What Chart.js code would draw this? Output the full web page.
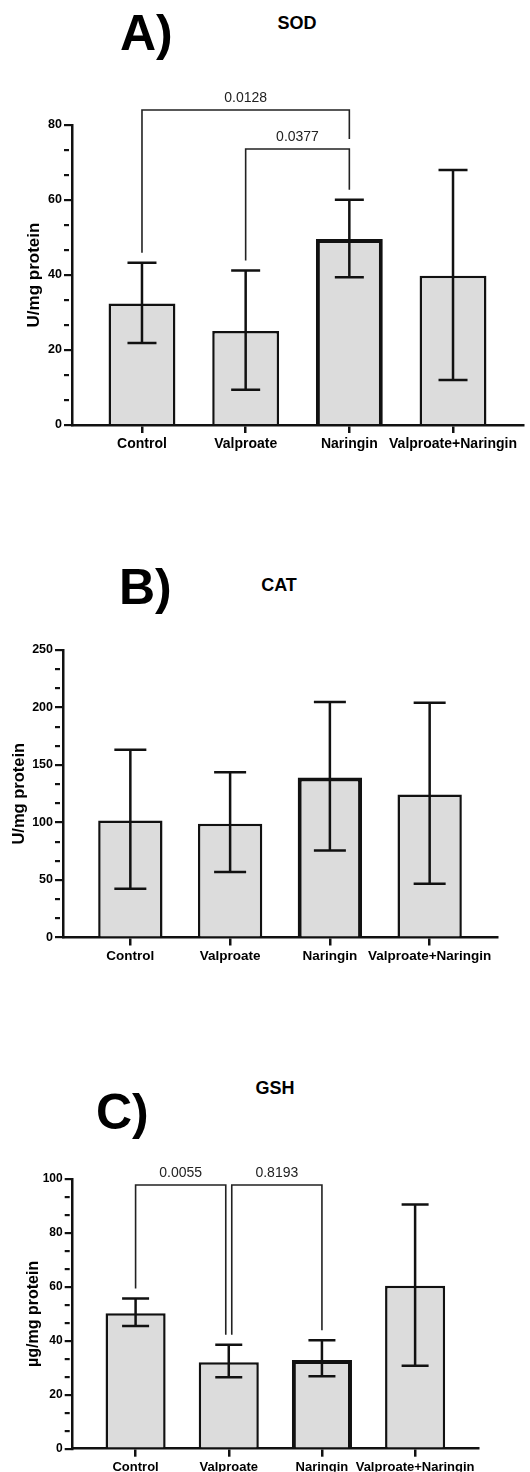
<!DOCTYPE html>
<html>
<head>
<meta charset="utf-8">
<script src="https://cdn.jsdelivr.net/npm/chart.js@4.4.1/dist/chart.umd.min.js"></script>
<style>
  body { margin: 0; background: #fff; width: 530px; height: 1472px; position: relative; overflow: hidden;
         font-family: "Liberation Sans", Arial, sans-serif; color: #000; }
  canvas { position: absolute; left: 0; }
  .tag { position: absolute; font-weight: bold; font-size: 50px; line-height: 50px; }
  .ttl { position: absolute; width: 200px; text-align: center; font-weight: bold; font-size: 18px; line-height: 18px; }
</style>
</head>
<body>
<div class="tag" style="left:120px;top:8px">A)</div>
<div class="ttl" style="left:197px;top:14px">SOD</div>
<canvas id="sodChart" width="530" height="470" style="top:0px"></canvas>

<div class="tag" style="left:119px;top:562px">B)</div>
<div class="ttl" style="left:179px;top:576px">CAT</div>
<canvas id="catChart" width="530" height="510" style="top:470px"></canvas>

<div class="tag" style="left:96px;top:1087px">C)</div>
<div class="ttl" style="left:175px;top:1079px">GSH</div>
<canvas id="gshChart" width="530" height="492" style="top:980px"></canvas>

<script>
// Antioxidant markers, mean with error bars

const groups = ["Control", "Valproate", "Naringin", "Valproate+Naringin"];

// A) SOD
const sodMean = [32.4, 25.1, 49.6, 39.8];
const sodUpper = [43.3, 41.2, 60.1, 68.0];
const sodLower = [21.9, 9.4, 39.4, 12.0];
const sodTicks = [0, 20, 40, 60, 80];
const sodPairs = [[0, 2], [1, 2]];
const sodP = ["0.0128", "0.0377"];
const sodLevels = [84, 73.6];

// B) CAT
const catMean = [101.7, 98.9, 139.1, 124.3];
const catUpper = [163.2, 143.8, 204.7, 204.1];
const catLower = [42.3, 56.9, 75.7, 46.7];
const catTicks = [0, 50, 100, 150, 200, 250];

// C) GSH
const gshMean = [50.2, 32.1, 32.9, 60.4];
const gshUpper = [55.7, 38.5, 40.2, 90.5];
const gshLower = [45.5, 26.5, 26.9, 30.8];
const gshTicks = [0, 20, 40, 60, 80, 100];
const gshPairs = [[0, 1], [1, 2]];
const gshP = ["0.0055", "0.8193"];
const gshLevels = [97.8, 97.8];

Chart.defaults.font.family = '"Liberation Sans", Arial, sans-serif';
Chart.defaults.color = "#000";

// error bars drawn on top of the bars
const errorBars = {
    id: "errorBars",
    afterDatasetsDraw(chart, args, o) {
        if (!o.upper) return;
        const { ctx, scales: { x, y } } = chart;
        ctx.save();
        ctx.strokeStyle = "#111";
        ctx.lineWidth = 2.5;
        o.upper.forEach((hi, i) => {
            const cx = x.getPixelForValue(i);
            const yh = y.getPixelForValue(hi);
            const yl = y.getPixelForValue(o.lower[i]);
            ctx.beginPath();
            ctx.moveTo(cx, yh); ctx.lineTo(cx, yl);
            ctx.moveTo(cx - o.cap / 2, yh); ctx.lineTo(cx + o.cap / 2, yh);
            ctx.moveTo(cx - o.cap / 2, yl); ctx.lineTo(cx + o.cap / 2, yl);
            ctx.stroke();
        });
        ctx.restore();
    },
};

// significance brackets with p values
const sigBrackets = {
    id: "sigBrackets",
    afterDatasetsDraw(chart, args, o) {
        if (!o.pairs) return;
        const { ctx, scales: { x, y } } = chart;
        ctx.save();
        ctx.strokeStyle = "#222";
        ctx.fillStyle = "#222";
        ctx.lineWidth = 1.6;
        ctx.font = '14px "Liberation Sans", Arial, sans-serif';
        ctx.textAlign = "center";
        ctx.textBaseline = "bottom";
        o.pairs.forEach(([a, b], k) => {
            const top = y.getPixelForValue(o.levels[k]);
            // brackets at the same height that share a bar get pushed apart a bit
            const shared = col => o.pairs.some((p, j) => j !== k && o.levels[j] === o.levels[k] && p.includes(col));
            const xa = x.getPixelForValue(a) + (shared(a) ? 3 : 0);
            const xb = x.getPixelForValue(b) - (shared(b) ? 3 : 0);
            // legs stop just above the error bar or a lower bracket
            const foot = col => {
                let v = o.upper[col];
                o.pairs.forEach((p, j) => {
                    if (j !== k && p.includes(col) && o.levels[j] < o.levels[k]) v = Math.max(v, o.levels[j]);
                });
                return y.getPixelForValue(v) - 10;
            };
            ctx.beginPath();
            ctx.moveTo(xa, foot(a));
            ctx.lineTo(xa, top);
            ctx.lineTo(xb, top);
            ctx.lineTo(xb, foot(b));
            ctx.stroke();
            ctx.fillText(o.labels[k], (xa + xb) / 2, top - 5);
        });
        ctx.restore();
    },
};

function panel(id, p) {
    const canvas = document.getElementById(id);
    const H = canvas.height;
    const step = p.ticks[1] - p.ticks[0];
    const isMajor = v => Math.abs(v / step - Math.round(v / step)) < 1e-6;
    const side = 0.675;

    return new Chart(canvas, {
        type: "bar",
        data: {
            datasets: [
                {
                    data: p.mean.map((v, i) => ({ x: i, y: v })),
                    backgroundColor: "#dcdcdc",
                    borderColor: "#111",
                    borderWidth: [2.5, 2.5, 4, 2.5],
                    barPercentage: 0.645,
                    categoryPercentage: 1,
                },
            ],
        },
        options: {
            responsive: false,
            animation: false,
            layout: { padding: { left: 0, top: p.top, right: 530 - p.right, bottom: H - p.bottom - p.xh } },
            plugins: {
                legend: { display: false },
                tooltip: { enabled: false },
                errorBars: { upper: p.upper, lower: p.lower, cap: p.cap },
                sigBrackets: { pairs: p.pairs, labels: p.pLabels, levels: p.levels, upper: p.upper },
            },
            scales: {
                x: {
                    type: "linear",
                    offset: false,
                    min: -side,
                    max: groups.length - 1 + side,
                    afterBuildTicks: s => { s.ticks = groups.map((g, i) => ({ value: i })); },
                    afterFit: s => { s.height = p.xh; },
                    ticks: {
                        callback: v => groups[v],
                        autoSkip: false,
                        maxRotation: 0,
                        padding: 3,
                        color: "#000",
                        font: { size: p.xFont, weight: "bold" },
                    },
                    grid: { offset: false, drawOnChartArea: false, tickLength: 8, color: "#111", lineWidth: 2.5 },
                    border: { color: "#111", width: 2.5 },
                },
                y: {
                    min: 0,
                    max: p.ticks[p.ticks.length - 1],
                    afterBuildTicks: s => {
                        const out = [];
                        for (let k = 0; k <= (p.ticks.length - 1) * 3; k++) {
                            out.push({ value: Math.round((k * step / 3) * 1e6) / 1e6 });
                        }
                        s.ticks = out;
                    },
                    afterFit: s => { s.width = p.left; },
                    ticks: {
                        callback: v => (isMajor(v) ? Math.round(v) : ""),
                        padding: 2,
                        color: "#000",
                        font: { size: p.yFont, weight: "bold" },
                    },
                    grid: {
                        drawOnChartArea: false,
                        tickLength: 8,
                        color: "#111",
                        lineWidth: 2.2,
                        tickBorderDash: c => (isMajor(c.tick.value) ? [] : [5, 30]),
                    },
                    border: { color: "#111", width: 2.5 },
                    title: {
                        display: true,
                        text: p.title,
                        color: "#000",
                        font: { size: p.titleSize, weight: "bold" },
                        padding: { top: p.titlePad, bottom: 0 },
                    },
                },
            },
        },
        plugins: [errorBars, sigBrackets],
    });
}

// SOD
panel("sodChart", {
    mean: sodMean, upper: sodUpper, lower: sodLower, ticks: sodTicks,
    pairs: sodPairs, pLabels: sodP, levels: sodLevels,
    title: "U/mg protein", titleSize: 17, titlePad: 23.8,
    left: 72, right: 523, top: 125, bottom: 425, xh: 30,
    xFont: 14, yFont: 12.5, cap: 29,
});

// CAT
panel("catChart", {
    mean: catMean, upper: catUpper, lower: catLower, ticks: catTicks,
    title: "U/mg protein", titleSize: 16.5, titlePad: 9.6,
    left: 63, right: 497, top: 180, bottom: 467.5, xh: 30,
    xFont: 13.5, yFont: 12.5, cap: 32,
});

// GSH
panel("gshChart", {
    mean: gshMean, upper: gshUpper, lower: gshLower, ticks: gshTicks,
    pairs: gshPairs, pLabels: gshP, levels: gshLevels,
    title: "µg/mg protein", titleSize: 16, titlePad: 24.4,
    left: 72.7, right: 478, top: 199, bottom: 468.7, xh: 23,
    xFont: 13, yFont: 12, cap: 27,
});
</script>
</body>
</html>
